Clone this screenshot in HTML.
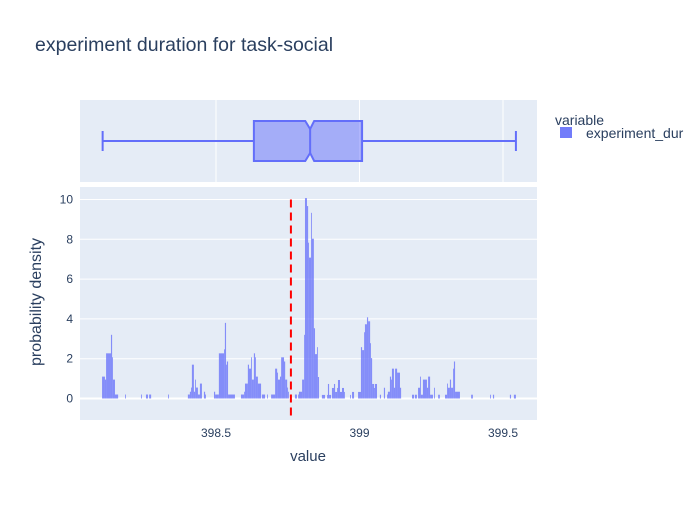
<!DOCTYPE html>
<html><head><meta charset="utf-8">
<style>
body{margin:0;background:#fff;}
svg{font-family:"Liberation Sans",Arial,sans-serif;}
</style></head>
<body>
<svg id="chart" width="700" height="500" viewBox="0 0 700 500">
<rect x="0" y="0" width="700" height="500" fill="#fff"/>
<text x="35" y="51" font-size="19.5" fill="#2a3f5f">experiment duration for task-social</text>
<rect x="80" y="100" width="457" height="82" fill="#e5ecf6"/>
<rect x="80" y="187" width="457" height="233" fill="#e5ecf6"/>
<g id="grid"></g>
<g id="bars"></g>
<g id="box"></g>
<g id="overlay"></g>
<g id="axes"></g>
<text x="308" y="461" font-size="15" fill="#2a3f5f" text-anchor="middle">value</text>
<text transform="translate(41,302) rotate(-90)" font-size="16" fill="#2a3f5f" text-anchor="middle">probability density</text>
<g>
<text x="555" y="125" font-size="14" fill="#2a3f5f">variable</text>
<rect x="560" y="127" width="12" height="11" fill="#636efa" fill-opacity="0.9"/>
<text x="586" y="138" font-size="14" fill="#2a3f5f">experiment_dur</text>
</g>
</svg>
<script>
const runStart=[398.103,398.113,398.117,398.134,398.138,398.141,398.148,398.183,398.239,398.256,398.267,398.333,
398.402,398.409,398.413,398.416,398.423,398.427,398.430,398.437,398.444,398.458,398.462,
398.493,398.497,398.510,398.528,398.531,398.535,398.538,398.542,
398.587,398.598,398.601,398.611,398.615,398.622,398.625,398.632,398.636,398.639,398.646,398.660,398.678,
398.692,398.706,398.713,398.716,398.723,398.727,398.737,398.741,398.748,398.751,
398.775,398.786,398.789,398.800,398.807,398.810,398.817,398.821,398.824,398.831,398.834,398.841,398.845,398.852,398.855,
398.869,398.887,398.890,398.894,398.904,398.911,398.915,398.922,398.925,398.932,398.939,398.946,398.967,398.974,
398.995,399.005,399.009,399.016,399.019,399.026,399.030,399.037,399.040,399.044,399.051,399.054,
399.071,399.085,399.096,399.099,399.106,399.110,399.113,399.120,399.124,399.131,399.141,
399.183,399.193,399.204,399.211,399.214,399.221,399.235,399.239,399.246,399.260,399.274,
399.298,399.305,399.308,399.315,399.319,399.326,399.329,399.333,399.389,399.455,399.465,399.524,399.538];
const runEnd=[398.113,398.117,398.134,398.138,398.141,398.148,398.159,398.186,398.242,398.263,398.274,398.336,
398.409,398.413,398.416,398.423,398.427,398.430,398.437,398.444,398.451,398.462,398.465,
398.497,398.510,398.528,398.531,398.535,398.538,398.542,398.566,
398.598,398.601,398.611,398.615,398.622,398.625,398.632,398.636,398.639,398.646,398.657,398.671,398.681,
398.706,398.713,398.716,398.723,398.727,398.737,398.741,398.748,398.751,398.754,
398.782,398.789,398.800,398.807,398.810,398.817,398.821,398.824,398.831,398.834,398.841,398.845,398.852,398.855,398.859,
398.880,398.890,398.894,398.901,398.911,398.915,398.922,398.925,398.932,398.939,398.946,398.949,398.970,398.981,
399.005,399.009,399.016,399.019,399.026,399.030,399.037,399.040,399.044,399.051,399.054,399.061,
399.075,399.089,399.099,399.106,399.110,399.113,399.120,399.124,399.131,399.141,399.145,
399.190,399.200,399.211,399.214,399.221,399.235,399.239,399.246,399.256,399.263,399.280,
399.305,399.308,399.315,399.319,399.326,399.329,399.333,399.350,399.395,399.458,399.469,399.528,399.545];
const density=[1.1,0.95,2.27,3.2,2.07,0.95,0.2,0.2,0.2,0.2,0.2,0.2,
0.2,0.34,0.55,1.7,0.34,0.95,0.55,0.2,0.75,0.34,0.2,
0.34,0.2,2.27,2.47,3.8,1.7,1.86,0.2,
0.2,0.34,0.75,1.7,1.5,2.07,0.95,2.27,2.07,1.1,0.75,0.2,0.2,
0.2,1.5,1.3,0.95,1.1,2.07,1.86,0.95,0.55,0.34,
0.2,0.2,0.34,0.95,3.2,10.07,9.67,7.83,7.08,9.33,8.03,3.53,2.23,2.58,1.08,
0.18,0.18,0.73,0.18,0.53,0.73,0.33,0.53,0.93,0.33,0.53,0.33,0.18,0.33,
0.33,2.58,2.43,3.33,3.73,4.08,3.88,2.78,2.03,0.73,0.53,0.73,
0.19,0.54,0.2,0.34,1.1,0.95,1.5,0.54,1.5,1.3,0.54,
0.19,0.19,0.54,1.1,0.19,0.95,0.54,1.1,0.19,0.54,0.19,
0.19,0.75,0.54,0.95,0.54,1.5,1.86,0.34,0.19,0.19,0.19,0.19,0.19];
const boxStats=[398.105,398.632,398.828,399.009,399.545]; // min,q1,median,q3,max
const notchLow=[398.811];
const notchHigh=[398.842];
const meanLine=[398.761];
const xTicks=[398.5,399,399.5];
const xTickLabels=["398.5","399","399.5"];
const yTicks=[0,2,4,6,8,10];
const yTickLabels=["0","2","4","6","8","10"];

const NS="http://www.w3.org/2000/svg";
function xs(v){return 216+(v-398.5)*287;}
function ys(v){return 398.5-v*19.9;}
function mk(tag,attrs,parent){const e=document.createElementNS(NS,tag);for(const k in attrs)e.setAttribute(k,attrs[k]);parent.appendChild(e);return e;}
const grid=document.getElementById('grid'),bars=document.getElementById('bars'),box=document.getElementById('box'),ov=document.getElementById('overlay'),axes=document.getElementById('axes');

xTicks.forEach((t,i)=>{
  const l=mk('line',{x1:xs(t),x2:xs(t),y1:100,y2:182,stroke:'#fff','stroke-width':1},grid);
  
  
  const tx=mk('text',{x:xs(t),y:437,'font-size':12,fill:'#2a3f5f','text-anchor':'middle'},axes);
  tx.textContent=xTickLabels[i];
  
  
});
yTicks.forEach((t,i)=>{
  const l=mk('line',{x1:80,x2:537,y1:ys(t),y2:ys(t),stroke:'#fff','stroke-width':t===0?2:1},grid);
  
  
  const tx=mk('text',{x:73,y:ys(t)+4,'font-size':12,fill:'#2a3f5f','text-anchor':'end'},axes);
  tx.textContent=yTickLabels[i];
  
  
});
density.forEach((d,i)=>{
  const x0=xs(runStart[i]),x1=xs(runEnd[i]);
  const r=mk('rect',{x:x0,y:ys(d),width:Math.max(x1-x0,0.8),height:ys(0)-ys(d),fill:'#636efa','fill-opacity':0.75},bars);
  
  
});
const cy=141,hh=20,nh=12;
const wl=mk('line',{x1:xs(boxStats[0]),x2:xs(boxStats[1]),y1:cy,y2:cy,stroke:'#636efa','stroke-width':2},box);


const wh=mk('line',{x1:xs(boxStats[3]),x2:xs(boxStats[4]),y1:cy,y2:cy,stroke:'#636efa','stroke-width':2},box);


[boxStats[0],boxStats[4]].forEach(v=>{
  const c=mk('line',{x1:xs(v),x2:xs(v),y1:cy-10,y2:cy+10,stroke:'#636efa','stroke-width':2},box);
  
  
});
const q1=xs(boxStats[1]),q3=xs(boxStats[3]),md=xs(boxStats[2]),nl=xs(notchLow[0]),nhx=xs(notchHigh[0]);
const p=mk('path',{d:`M${q1},${cy-hh}L${nl},${cy-hh}L${md},${cy-nh}L${nhx},${cy-hh}L${q3},${cy-hh}L${q3},${cy+hh}L${nhx},${cy+hh}L${md},${cy+nh}L${nl},${cy+hh}L${q1},${cy+hh}Z`,fill:'rgba(99,110,250,0.5)',stroke:'#636efa','stroke-width':2},box);


const ml=mk('line',{x1:md,x2:md,y1:cy-nh,y2:cy+nh,stroke:'#636efa','stroke-width':2},box);


const rl=mk('line',{x1:xs(meanLine[0]),x2:xs(meanLine[0]),y1:ys(10),y2:420,stroke:'#ff0000','stroke-width':2,'stroke-dasharray':'8,5'},ov);


</script>
</body></html>
